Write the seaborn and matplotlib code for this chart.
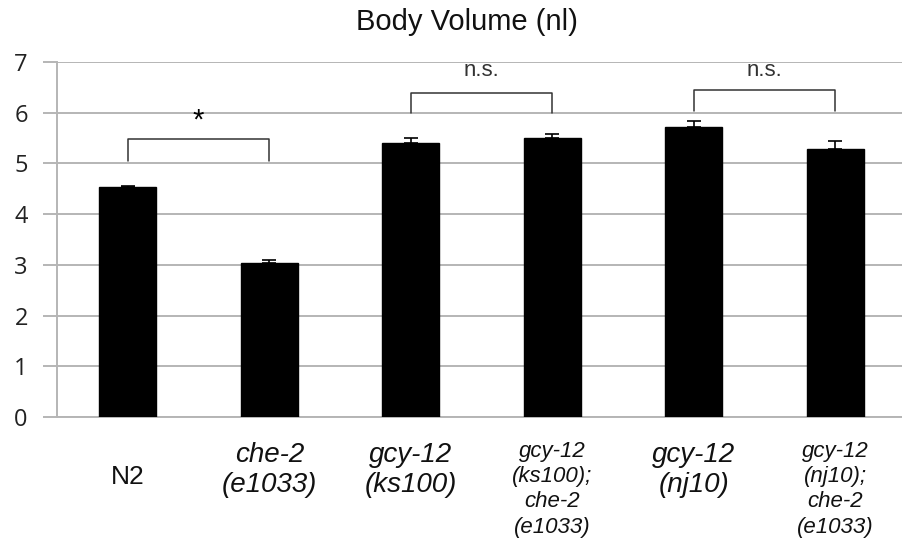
import matplotlib
matplotlib.use("Agg")
import matplotlib.pyplot as plt
import matplotlib.transforms as mtransforms
import seaborn as sns
import pandas as pd
import numpy as np

categories = ["N2", "che-2 (e1033)", "gcy-12 (ks100)", "gcy-12 (ks100); che-2 (e1033)",
              "gcy-12 (nj10)", "gcy-12 (nj10); che-2 (e1033)"]
tick_texts = ["N2", "che-2\n(e1033)", "gcy-12\n(ks100)", "gcy-12\n(ks100);\nche-2\n(e1033)",
              "gcy-12\n(nj10)", "gcy-12\n(nj10);\nche-2\n(e1033)"]
values = [4.53, 3.03, 5.41, 5.51, 5.71, 5.28]
errors = [0.03, 0.07, 0.10, 0.07, 0.13, 0.17]
yticks = [0, 1, 2, 3, 4, 5, 6, 7]
brackets = [(0, 1, 5.05, 5.48, "*"), (2, 3, 5.99, 6.38, "n.s."), (4, 5, 6.04, 6.45, "n.s.")]
title = "Body Volume (nl)"

sns.set_style("white")
plt.rcParams['font.family'] = ['Liberation Sans', 'DejaVu Sans']

W, H = 903, 551
fig = plt.figure(figsize=(W / 100, H / 100), dpi=100)
ax = fig.add_axes([57 / W, 1 - 417 / H, (906 - 57) / W, (417 - 62) / H])

df = pd.DataFrame({"cat": categories, "val": values})
sns.barplot(data=df, x="cat", y="val", color="black", width=0.4, ax=ax,
            saturation=1, errorbar=None, zorder=3)
for p in ax.patches:
    p.set_facecolor("black")
    p.set_edgecolor("black")

x = np.arange(len(categories))
ax.errorbar(x, values, yerr=[np.zeros(len(errors)), errors], fmt="none",
            ecolor="black", elinewidth=1.2, capsize=5, capthick=1.2, zorder=4)

ax.set_ylim(0, 7)
ax.set_xlim(-0.5, len(categories) - 0.5)
ax.set_yticks(yticks)
ax.set_yticklabels([str(t) for t in yticks], fontsize=17, family=["Open Sans", "DejaVu Sans"],
                   color="#222222")
ax.yaxis.grid(True, color="#b5b5b5", linewidth=1.4, zorder=0)
ax.set_axisbelow(True)
ax.tick_params(axis="y", length=10, width=1.4, color="#b5b5b5", left=True, pad=11)
ax.tick_params(axis="x", length=0)
ax.set_xticks(x)
ax.set_xticklabels([""] * len(categories))
for s in ["top", "right"]:
    ax.spines[s].set_visible(False)
for s in ["left", "bottom"]:
    ax.spines[s].set_color("#b5b5b5")
    ax.spines[s].set_linewidth(1.4)
ax.set_xlabel("")
ax.set_ylabel("")

trans = mtransforms.blended_transform_factory(ax.transData, ax.transAxes)
lab_family = ["Liberation Sans Narrow", "Liberation Sans", "DejaVu Sans"]
for i, t in enumerate(tick_texts):
    nlines = t.count("\n") + 1
    if i == 0:
        ax.text(i, -0.169, t, transform=trans, ha="center", va="center", fontsize=19,
                family=lab_family, color="#111111")
    elif nlines == 2:
        ax.text(i, -0.149, t, transform=trans, ha="center", va="center", fontsize=20,
                style="italic", family=lab_family, linespacing=1.22, color="#111111")
    else:
        ax.text(i, -0.203, t, transform=trans, ha="center", va="center", fontsize=16,
                style="italic", family=lab_family, linespacing=1.27, color="#111111")

for a, b, y0, y1, lab in brackets:
    ax.plot([a, a, b, b], [y0, y1, y1, y0], color="#333333", linewidth=1.1, zorder=5)
    if lab == "*":
        ax.text((a + b) / 2, 5.84, lab, ha="center", va="center", fontsize=21, color="black")
    else:
        ax.text((a + b) / 2, 6.83, lab, ha="center", va="center", fontsize=16,
                family=["Liberation Sans", "DejaVu Sans"], color="#333333")

fig.text(467 / W, 1 - 22 / H, title, ha="center", va="center", fontsize=21,
         family=["Liberation Sans", "DejaVu Sans"], color="#111111")

fig.savefig("out.png", dpi=100)
